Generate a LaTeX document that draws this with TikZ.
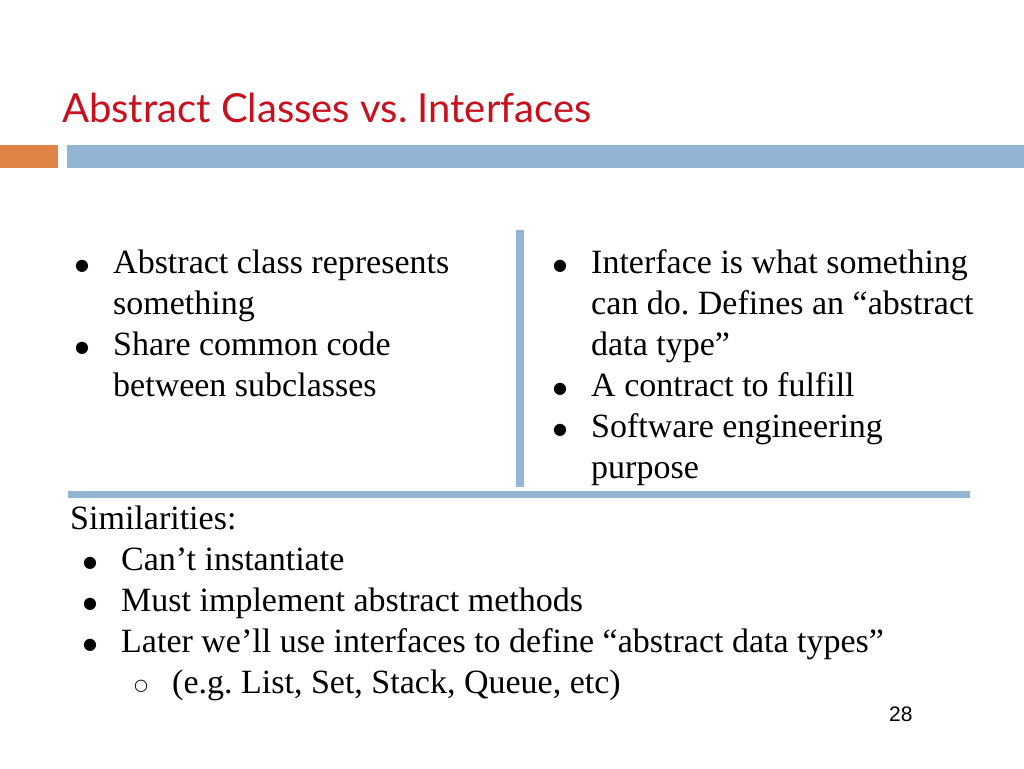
\documentclass[tikz,border=0pt]{standalone}
\usepackage{fontspec}
\setmainfont{Liberation Serif}
\newfontfamily\titlefont{Lato}
\newfontfamily\symfont{DejaVu Sans}
\newfontfamily\numfont{Liberation Sans}
\definecolor{titlered}{RGB}{200,16,30}
\definecolor{barorange}{RGB}{224,130,70}
\definecolor{barblue}{RGB}{148,180,212}
\frenchspacing
\begin{document}
\begin{tikzpicture}[x=1pt,y=-1pt,
  txt/.style={anchor=base west,inner sep=0pt,font=\fontsize{34}{40}\selectfont},
  bul/.style={anchor=base,inner sep=0pt,font=\symfont\fontsize{16}{20}\selectfont}]
\useasboundingbox (0,0) rectangle (1024,768);
\fill[white] (0,0) rectangle (1024,768);
\node[anchor=base west,inner sep=0pt,text=titlered,font=\titlefont\fontsize{40}{46}\selectfont] (title) at (62,122) {Abstract Classes vs. Interfaces};
\fill[barorange] (0,145) rectangle (58,168);
\fill[barblue] (67,145) rectangle (1024,168);
\draw[barblue,line width=8pt] (520,230) coordinate (v1) -- (520,487) coordinate (v2);
\draw[barblue,line width=7pt] (68,494) coordinate (h1) -- (970,494) coordinate (h2);
% left column
\node[bul] (b1) at (82,270) {●};
\node[txt] (l1) at (113,273) {Abstract class represents};
\node[txt] (l2) at (113,314) {something};
\node[bul] (b2) at (82,352) {●};
\node[txt] (l3) at (113,355) {Share common code};
\node[txt] (l4) at (113,396) {between subclasses};
% right column
\node[bul] (b3) at (560,270) {●};
\node[txt] (r1) at (591,273) {Interface is what something};
\node[txt] (r2) at (591,314) {can do. Defines an “abstract};
\node[txt] (r3) at (591,355) {data type”};
\node[bul] (b4) at (560,393) {●};
\node[txt] (r4) at (591,396) {A contract to fulfill};
\node[bul] (b5) at (560,434) {●};
\node[txt] (r5) at (591,437) {Software engineering};
\node[txt] (r6) at (591,478) {purpose};
% bottom
\node[txt] (s0) at (70,529) {Similarities:};
\node[bul] (b6) at (90,567) {●};
\node[txt] (s1) at (121,570) {Can’t instantiate};
\node[bul] (b7) at (90,608) {●};
\node[txt] (s2) at (121,611) {Must implement abstract methods};
\node[bul] (b8) at (90,649) {●};
\node[txt] (s3) at (121,652) {Later we’ll use interfaces to define “abstract data types”};
\node[bul] (b9) at (141,690) {○};
\node[txt] (s4) at (172,693) {(e.g. List, Set, Stack, Queue, etc)};
\node[anchor=base west,inner sep=0pt,font=\numfont\fontsize{21}{24}\selectfont] (pg) at (889,721) {28};
\end{tikzpicture}
\end{document}
